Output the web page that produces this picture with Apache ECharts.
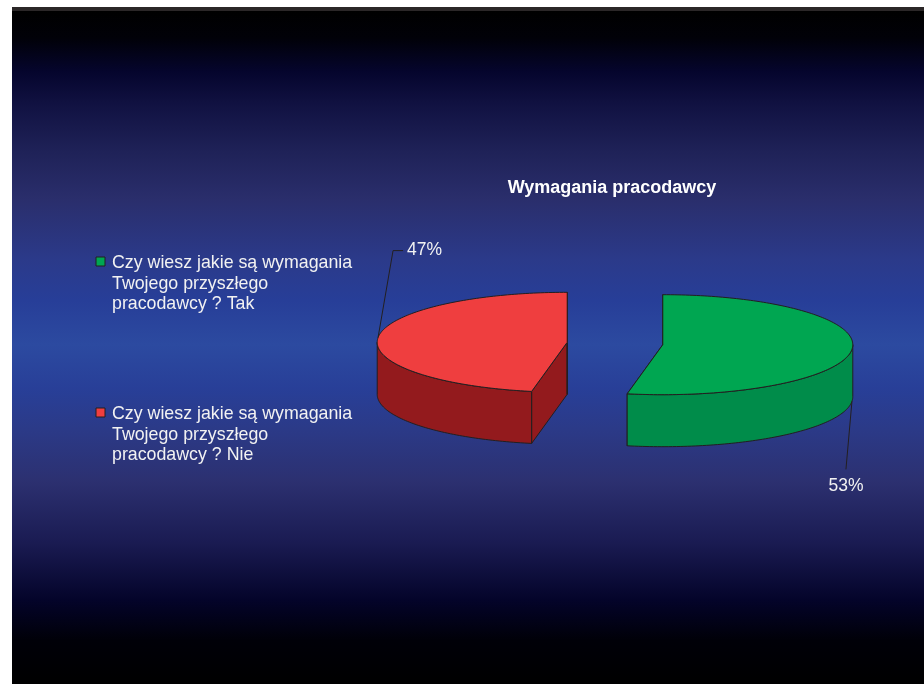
<!DOCTYPE html>
<html>
<head>
<meta charset="utf-8">
<script src="https://cdn.jsdelivr.net/npm/echarts@6/dist/echarts.min.js"></script>
<style>
  html, body { margin: 0; padding: 0; background: #ffffff; }
  #chart { width: 924px; height: 684px; }
</style>
</head>
<body>
<div id="chart"></div>
<script>
// Survey answers: "Do you know your future employer's requirements?"
const categories = [
  'Czy wiesz jakie są wymagania\nTwojego przyszłego\npracodawcy ? Tak',
  'Czy wiesz jakie są wymagania\nTwojego przyszłego\npracodawcy ? Nie'
];
const shares = [53, 47];
const chartTitle = 'Wymagania pracodawcy';

// Styling
const topColors = ['#00a651', '#ef3e3f'];
const sideColors = ['#008c4a', '#931a1d'];
const edgeColor = '#231f20';
const FONT = '"Liberation Sans", Arial, sans-serif';

// Flattened "3D" pie geometry
const CX = 615, CY = 343.5;   // pie centre on screen
const RX = 190, RY = 50;      // ellipse radii of the top face
const DEPTH = 52;             // thickness of the pie
const EXPLODE = 48;           // distance each slice is pulled out

const total = shares.reduce((a, b) => a + b, 0);

function renderItem(params, api) {
  const i = params.dataIndex;
  const v = api.value(0);
  let before = 0;
  for (let k = 0; k < i; k++) before += shares[k];
  const a0 = before / total * Math.PI * 2;
  const a1 = (before + v) / total * Math.PI * 2;
  const mid = (a0 + a1) / 2;
  const cx = CX + EXPLODE * Math.sin(mid);
  const cy = CY - EXPLODE * Math.cos(mid) * RY / RX;
  const pt = (a, dy) => [cx + RX * Math.sin(a), cy - RY * Math.cos(a) + (dy || 0)];
  const arc = (s, e, dy) => {
    const n = Math.max(2, Math.ceil(Math.abs(e - s) / 0.02));
    const out = [];
    for (let j = 0; j <= n; j++) out.push(pt(s + (e - s) * j / n, dy));
    return out;
  };
  const children = [];
  const sideStyle = { fill: sideColors[i], stroke: edgeColor, lineWidth: 1 };

  // cut faces along the two radii
  [a0, a1].forEach(a => {
    children.push({
      type: 'polygon',
      shape: { points: [[cx, cy], pt(a), pt(a, DEPTH), [cx, cy + DEPTH]] },
      style: sideStyle
    });
  });

  // outer rim, only the half facing the viewer
  const fs = Math.max(a0, Math.PI / 2);
  const fe = Math.min(a1, Math.PI * 1.5);
  if (fe > fs) {
    children.push({
      type: 'polygon',
      shape: { points: arc(fs, fe, 0).concat(arc(fe, fs, DEPTH)) },
      style: sideStyle
    });
  }

  // top face
  children.push({
    type: 'polygon',
    shape: { points: [[cx, cy]].concat(arc(a0, a1, 0)) },
    style: { fill: topColors[i], stroke: edgeColor, lineWidth: 1 }
  });

  // leader line and percentage label
  const text = Math.round(v / total * 100) + '%';
  const labelStyle = { fill: '#f2f2f2', font: '17.5px ' + FONT };
  if (Math.sin(mid) > 0) {
    const s = pt(mid, DEPTH);
    const e = [s[0] - 6, s[1] + 68];
    children.push({ type: 'polyline', shape: { points: [s, e] },
      style: { stroke: edgeColor, lineWidth: 1, fill: null } });
    children.push({ type: 'text', x: e[0], y: e[1] + 17,
      style: Object.assign({ text, align: 'center', verticalAlign: 'middle' }, labelStyle) });
  } else {
    const s = pt(mid, 0);
    const k = [s[0] + 15, s[1] - 87];
    const e = [k[0] + 10, k[1]];
    children.push({ type: 'polyline', shape: { points: [s, k, e] },
      style: { stroke: edgeColor, lineWidth: 1, fill: null } });
    children.push({ type: 'text', x: e[0] + 4, y: e[1],
      style: Object.assign({ text, align: 'left', verticalAlign: 'middle' }, labelStyle) });
  }
  return { type: 'group', children };
}

// Legend entries on the left
const legendItems = categories.map((name, i) => ({
  type: 'group',
  x: 96,
  y: 257 + i * 151,
  children: [
    { type: 'rect', shape: { x: 0, y: 0, width: 9, height: 9 },
      style: { fill: topColors[i], stroke: edgeColor, lineWidth: 1 } },
    { type: 'text', x: 16, y: 4.5 - 8.5,
      style: { text: name, fill: '#f2f2f2', font: '17.8px ' + FONT,
               lineHeight: 20.5, verticalAlign: 'top', align: 'left' } }
  ]
}));

const chart = echarts.init(document.getElementById('chart'), null, { renderer: 'canvas' });
chart.setOption({
  animation: false,
  backgroundColor: '#ffffff',
  title: {
    text: chartTitle,
    left: 607,
    top: 174,
    textAlign: 'center',
    textStyle: { color: '#ffffff', fontSize: 18, fontWeight: 'bold', fontFamily: FONT }
  },
  graphic: [
    { type: 'rect', z: -10, shape: { x: 12, y: 7, width: 912, height: 4 },
      style: { fill: '#2b2728' } },
    { type: 'rect', z: -10, shape: { x: 12, y: 11, width: 912, height: 673 },
      style: { fill: new echarts.graphic.LinearGradient(0, 0, 0, 1, [
        { offset: 0.00, color: '#000000' },
        { offset: 0.04, color: '#010108' },
        { offset: 0.09, color: '#05052d' },
        { offset: 0.14, color: '#111242' },
        { offset: 0.21, color: '#1f2258' },
        { offset: 0.28, color: '#2a2e6c' },
        { offset: 0.37, color: '#2b3a8a' },
        { offset: 0.43, color: '#273e98' },
        { offset: 0.496, color: '#2c4aa0' },
        { offset: 0.56, color: '#283f98' },
        { offset: 0.62, color: '#2b3a88' },
        { offset: 0.70, color: '#2c3070' },
        { offset: 0.79, color: '#1a1b52' },
        { offset: 0.875, color: '#04042a' },
        { offset: 0.935, color: '#000008' },
        { offset: 1.00, color: '#000000' }
      ]) } }
  ].concat(legendItems),
  series: [{
    type: 'custom',
    coordinateSystem: 'none',
    renderItem: renderItem,
    data: shares.map(v => [v])
  }]
});
</script>
</body>
</html>
